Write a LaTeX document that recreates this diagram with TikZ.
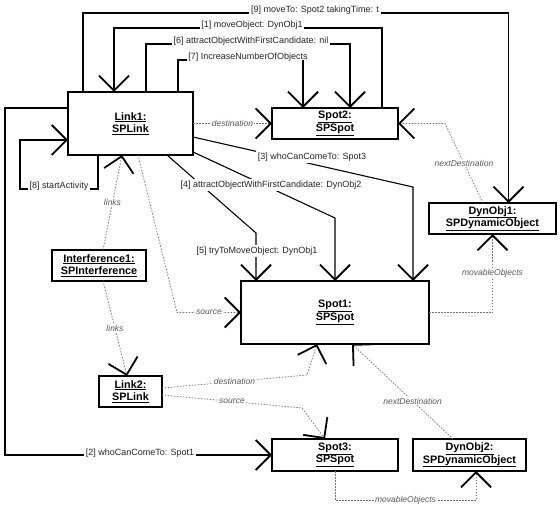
\documentclass[tikz,border=0pt]{standalone}
\usepackage{fontspec}
\setmainfont{Liberation Sans}
\usetikzlibrary{arrows.meta,calc}

\tikzset{
 obj/.style
  = {rectangle, draw, line width=1.6pt, fill=white, align=center, inner sep=1pt,
     outer sep=0pt, font=\fontsize{10.8}{12.5}\selectfont\bfseries},
 msg/.style
  = {draw, line width=1.1pt,
     >={Straight Barb[length=15pt,width=30pt,line width=1.8pt]}},
 lk/.style
  = {draw, black!55, line width=0.7pt, dash pattern=on 1.5pt off 1.5pt,
     >={Straight Barb[length=15pt,width=30pt,line width=1.8pt,color=black]}},
 mlab/.style
  = {font=\fontsize{9}{10}\selectfont, text=black!85, inner sep=1.5pt, fill=white},
 rlab/.style
  = {font=\fontsize{8.5}{10}\selectfont\itshape, text=black!65, inner sep=1pt, fill=white},
}

\begin{document}
\begin{tikzpicture}[x=1pt, y=-1pt]

\fill[white] (0,0) rectangle (560,508);
\useasboundingbox (0,0) rectangle (560,508);

% Objects
\node[obj, minimum width=125pt, minimum height=63pt] (Link1) at (130.5,123.5) {\underline{Link1:}\\\underline{SPLink}};
\node[obj, minimum width=126pt, minimum height=31pt] (Spot2) at (335,123.5) {\underline{Spot2:}\\\underline{SPSpot}};
\node[obj, minimum width=127pt, minimum height=31pt] (DynObj1) at (492.5,218.5) {\underline{DynObj1:}\\\underline{SPDynamicObject}};
\node[obj, minimum width=188pt, minimum height=63pt] (Spot1) at (335,312.5) {\underline{Spot1:}\\\underline{SPSpot}};
\node[obj, minimum width=94pt, minimum height=31pt] (Interference1) at (99,265.5) {\underline{Interference1:}\\\underline{SPInterference}};
\node[obj, minimum width=63pt, minimum height=31pt] (Link2) at (130.5,391.5) {\underline{Link2:}\\\underline{SPLink}};
\node[obj, minimum width=126pt, minimum height=32pt] (Spot3) at (335,455) {\underline{Spot3:}\\\underline{SPSpot}};
\node[obj, minimum width=113pt, minimum height=32pt] (DynObj2) at (469.5,455) {\underline{DynObj2:}\\\underline{SPDynamicObject}};

% Message labels
\node[mlab, anchor=base] (m9) at (315,13) {[9] moveTo: Spot2 takingTime: t};
\node[mlab, anchor=base] (m1) at (252,28) {[1] moveObject: DynObj1};
\node[mlab, anchor=base] (m6) at (251,44) {[6] attractObjectWithFirstCandidate: nil};
\node[mlab, anchor=base] (m7) at (248,60) {[7] IncreaseNumberOfObjects};
\node[mlab, anchor=base] (m8) at (59,189) {[8] startActivity};
\node[mlab, anchor=base] (m2) at (140,455) {[2] whoCanComeTo: Spot1};

% Arrival points
\coordinate (s2a) at ([xshift=31pt]Spot2.north west);
\coordinate (s1a) at ([xshift=15pt]Spot1.north west);
\coordinate (s1c) at ([xshift=-16pt]Spot1.north east);

% Links
\draw[lk,->] (Link1.east) -- node[rlab]{destination} (Spot2.west);
\draw[lk,->] ([xshift=-9.5pt]DynObj1.north) -- node[rlab]{nextDestination} ([xshift=47pt]Spot2.east) -- (Spot2.east);
\draw[lk,->] (Spot1.east) -| node[rlab, pos=0.75]{movableObjects} (DynObj1.south);
\draw[lk,->] ([xshift=4pt]Interference1.north) -- node[rlab]{links} ([xshift=-8.5pt]Link1.south);
\draw[lk,->] ([xshift=4pt]Interference1.south) -- node[rlab]{links} ([xshift=-3.5pt]Link2.north);
\draw[lk,->] ([xshift=7.5pt]Link1.south) -- ([xshift=-64pt]Spot1.west) -- node[rlab]{source} (Spot1.west);
\draw[lk,->] ([yshift=3.5pt]Link2.east) -- node[rlab]{destination} ([xshift=-28pt,yshift=-31pt]Spot1.south) -- ([xshift=-18pt]Spot1.south);
\draw[lk,->] ([yshift=-3.5pt]Link2.east) -- node[rlab]{source} ([xshift=-33pt,yshift=31pt]Spot3.north) -- ([xshift=-10pt]Spot3.north);
\draw[lk,->] ([xshift=-16.5pt]DynObj2.north) -- node[rlab, pos=0.4]{nextDestination} ([xshift=17pt]Spot1.south);
\draw[lk,->] (Spot3.south) -- ++(0,29) -| node[rlab, pos=0.25]{movableObjects} ([xshift=6.5pt]DynObj2.south);

% Messages
\draw[msg] ([xshift=15pt]Link1.north west) |- (m9.base west);
\draw[msg,->] (m9.base east) -| ([xshift=16pt]DynObj1.north);
\draw[msg,<-] ([xshift=46pt]Link1.north west) |- (m1.base west);
\draw[msg] (m1.base east) -| ([xshift=-16pt]Spot2.north east);
\draw[msg] ([xshift=78pt]Link1.north west) |- (m6.base west);
\draw[msg,->] (m6.base east) -| ([xshift=78pt]Spot2.north west);
\draw[msg] ([xshift=110pt]Link1.north west) |- (m7.base west);
\draw[msg,->] (m7.base -| s2a) -- (s2a);
\draw[msg,->] ([yshift=-13.5pt]Link1.east) -- ([yshift=94pt]s1c) -- (s1c);
\draw[msg,->] ([yshift=3pt]Link1.south east) -- ([yshift=63pt]Spot1.north) -- (Spot1.north);
\draw[msg,->] ([xshift=36.5pt]Link1.south) -- ([yshift=48pt]s1a) -- (s1a);
\draw[msg] ([xshift=-32.5pt]Link1.south) |- (m8.base east);
\draw[msg,->] (m8.base west) -- ++(-8,0) |- ([yshift=-16.5pt]Link1.west);
\draw[msg] ([yshift=15.5pt]Link1.west) -- ++(-63,0) |- (m2.base west);
\draw[msg,->] (m2.base east) -- (Spot3.west);

% Labels over crossing lines
\node[mlab] (m3) at (312,157) {[3] whoCanComeTo: Spot3};
\node[mlab] (m4) at (271,185) {[4] attractObjectWithFirstCandidate: DynObj2};
\node[mlab] (m5) at (257,251) {[5] tryToMoveObject: DynObj1};

\end{tikzpicture}
\end{document}
